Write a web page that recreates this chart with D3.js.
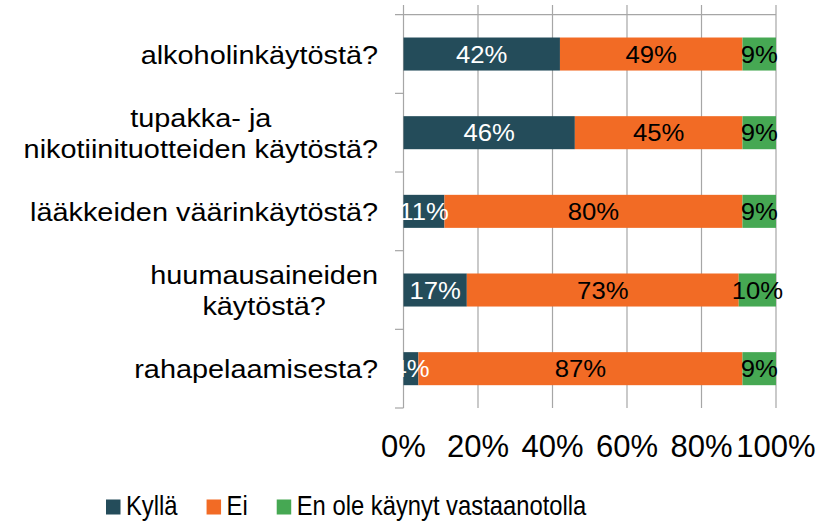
<!DOCTYPE html>
<html><head><meta charset="utf-8">
<script src="https://cdn.jsdelivr.net/npm/d3@7"></script>
<style>
html,body{margin:0;padding:0;background:#fff;}
svg{display:block;font-family:"Liberation Sans",Arial,sans-serif;}
</style></head>
<body>
<svg id="chart" width="834" height="522"></svg>
<script>
const categories = [
  ["alkoholinkäytöstä?"],
  ["tupakka- ja", "nikotiinituotteiden käytöstä?"],
  ["lääkkeiden väärinkäytöstä?"],
  ["huumausaineiden", "käytöstä?"],
  ["rahapelaamisesta?"]
];
const seriesNames = ["Kyllä", "Ei", "En ole käynyt vastaanotolla"];
const kylla = [42, 46, 11, 17, 4];
const ei = [49, 45, 80, 73, 87];
const eiOle = [9, 9, 9, 10, 9];
const tickValues = [0, 20, 40, 60, 80, 100];
const tickLabels = ["0%", "20%", "40%", "60%", "80%", "100%"];

const colors = ["#244C5A", "#F26B25", "#46A853"];
const labelColors = ["#ffffff", "#000000", "#000000"];
const series = [kylla, ei, eiOle];

const svg = d3.select("#chart");
const x = d3.scaleLinear().domain([0, 100]).range([403.5, 776]);
const keys = categories.map((c, i) => i);
const y = d3.scaleBand().domain(keys).range([14.7, 408]).paddingInner(0.58).paddingOuter(0.29);
const step = y.step();
const grid = "#a6a6a6";

// gridlines
svg.append("g").selectAll("line").data(tickValues).join("line")
  .attr("x1", d => x(d)).attr("x2", d => x(d))
  .attr("y1", 5).attr("y2", 408)
  .attr("stroke", grid).attr("stroke-width", 1.2);
// top line
svg.append("line").attr("x1", 395).attr("x2", x(100)).attr("y1", 14.7).attr("y2", 14.7)
  .attr("stroke", grid).attr("stroke-width", 1.2);
// category tick marks
svg.append("g").selectAll("line").data(d3.range(1, categories.length + 1)).join("line")
  .attr("x1", 395).attr("x2", x(0))
  .attr("y1", i => 14.7 + i * step).attr("y2", i => 14.7 + i * step)
  .attr("stroke", grid).attr("stroke-width", 1.2);

// stacked data
const rows = keys.map(i => {
  let acc = 0;
  return series.map((s, si) => {
    const v = s[i];
    const seg = {row: i, s: si, x0: acc, x1: acc + v, v};
    acc += v;
    return seg;
  });
});
const segs = rows.flat();

svg.append("g").selectAll("rect").data(segs).join("rect")
  .attr("x", d => x(d.x0)).attr("width", d => x(d.x1) - x(d.x0))
  .attr("y", d => y(d.row)).attr("height", y.bandwidth())
  .attr("fill", d => colors[d.s]);

// data labels
svg.append("g").selectAll("text").data(segs).join("text")
  .attr("transform", d => `translate(${(x(d.x0) + x(d.x1)) / 2},${y(d.row) + y.bandwidth() / 2 + 8.6}) scale(1.07,1)`)
  .attr("text-anchor", "middle")
  .attr("font-size", 24)
  .attr("fill", d => labelColors[d.s])
  .text(d => d.v + "%");

// category labels
const labelRight = 378;
const lineH = 31;
categories.forEach((lines, i) => {
  const cy = y(i) + y.bandwidth() / 2;
  const g = svg.append("g").attr("transform", `translate(${labelRight},${cy}) scale(1.11,1)`);
  const texts = lines.map((t, li) => g.append("text")
    .attr("font-size", 26).attr("fill", "#000")
    .attr("text-anchor", "middle")
    .attr("y", (li - (lines.length - 1) / 2) * lineH + 9.5)
    .text(t));
  const maxW = d3.max(texts, t => t.node().getComputedTextLength());
  texts.forEach(t => t.attr("x", -maxW / 2));
});

// x tick labels
svg.append("g").selectAll("text").data(tickValues).join("text")
  .attr("x", (d) => x(d)).attr("y", 457)
  .attr("text-anchor", "middle").attr("font-size", 31).attr("fill", "#000")
  .text((d, i) => tickLabels[i]);

// legend
let lx = 106;
const legend = svg.append("g");
seriesNames.forEach((name, i) => {
  legend.append("rect").attr("x", lx).attr("y", 499.5).attr("width", 14.5).attr("height", 15)
    .attr("fill", colors[i]);
  const t = legend.append("text")
    .attr("transform", `translate(${lx + 20},515) scale(0.85,1)`)
    .attr("font-size", 28).attr("fill", "#000").text(name);
  const w = t.node().getComputedTextLength() * 0.85;
  lx = lx + 20 + w + 29;
});
</script>
</body></html>
